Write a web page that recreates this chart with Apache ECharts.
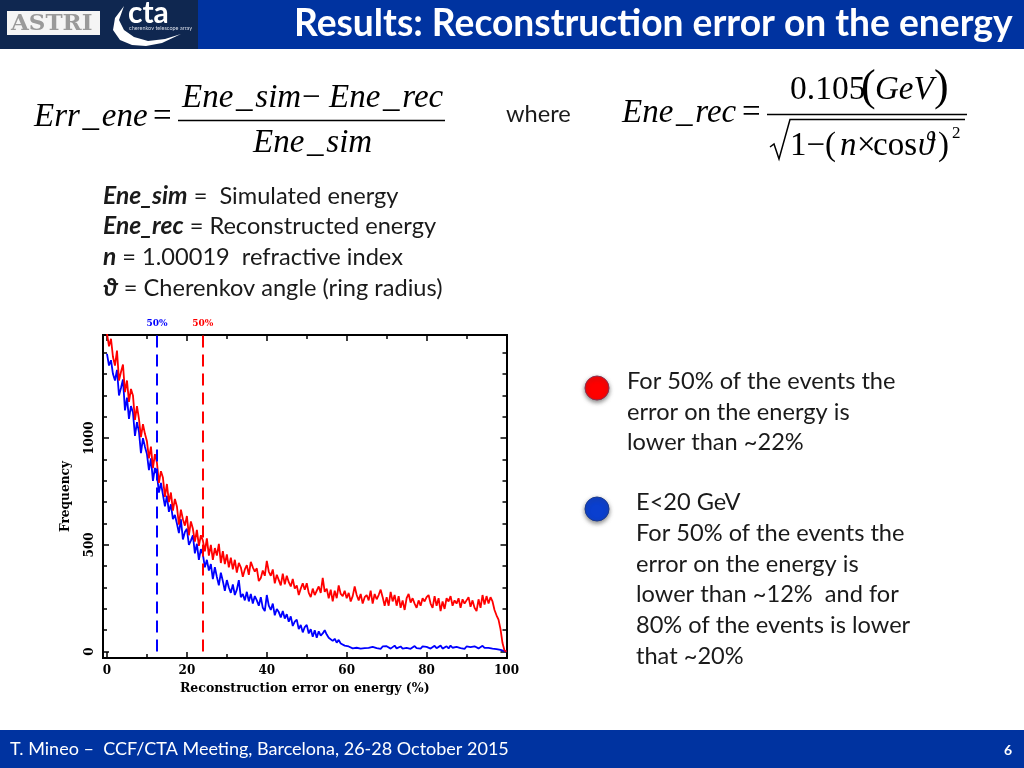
<!DOCTYPE html>
<html><head><meta charset="utf-8">
<style>html,body{margin:0;padding:0;background:#fff}#c{width:1024px;height:768px}</style>
<script src="https://cdn.jsdelivr.net/npm/echarts@6/dist/echarts.min.js"></script>
</head><body><div id="c"></div>
<script>
const binWidth = 0.5;
const redCounts = [
1490,1430,1465,1380,1340,1410,1270,1310,1345,1215,
1270,1170,1230,1200,1085,1150,1090,1005,1065,1020,
985,905,960,860,925,885,790,845,815,725,
785,700,745,660,715,680,595,665,620,590,
635,545,610,575,515,570,495,545,520,470,
530,450,500,430,485,450,505,415,470,410,
455,395,440,385,430,370,415,395,350,385,
405,360,420,395,375,390,330,345,380,355,
425,375,355,385,320,360,335,310,365,315,
355,325,305,340,295,310,265,295,320,290,
320,275,255,295,265,285,305,275,345,280,
295,250,290,235,285,250,310,270,260,285,
250,275,235,260,305,265,240,270,225,255,
265,240,285,225,270,245,265,290,255,215,
255,215,280,235,265,215,260,205,240,195,
250,270,230,250,225,205,240,215,250,235,
255,265,225,205,260,215,250,190,235,200,
250,235,260,215,240,225,250,205,245,225,
240,255,210,240,205,190,245,205,265,220,
260,225,255,235,195,170,150,105,40,5,
0];
const blueCounts = [
1395,1340,1365,1300,1270,1320,1200,1235,1275,1130,
1190,1090,1150,1120,1010,1075,1030,930,1000,960,
925,850,905,800,860,830,745,790,735,680,
730,655,690,620,640,600,555,620,525,560,
575,500,520,545,460,505,430,480,455,395,
430,380,410,340,395,350,310,370,330,285,
335,300,275,315,265,290,335,255,270,240,
280,235,270,225,260,240,215,255,205,190,
265,215,195,225,170,200,185,160,190,155,
175,140,165,120,140,150,105,125,90,115,
125,85,105,70,100,65,95,75,85,100,
80,65,72,50,60,42,55,38,45,28,
30,24,26,15,22,18,24,14,22,16,
24,17,14,22,26,16,20,13,24,17,
25,18,14,23,28,15,19,24,14,20,
17,25,13,22,26,16,20,14,24,18,
22,26,14,18,27,16,21,28,14,19,
25,15,28,18,14,22,26,16,20,13,
24,17,21,14,25,18,15,23,27,17,
24,17,22,14,19,12,16,8,6,2,
0];
const xMajorTicks = [0,20,40,60,80,100];
const xMinorTicks = [10,30,50,70,90];
const yLabelTicks = [0,500,1000];
const yMinorTicks = [100,200,300,400,600,700,800,900,1100,1200,1300,1400];
const redMedian = 24;
const blueMedian = 12.5;
const medianLabel = '50%';
const xTitle = 'Reconstruction error on energy (%)';
const yTitle = 'Frequency';

const pairs = a => a.map((v,i)=>[i*binWidth,v]);
const plotFont = '"DejaVu Serif"';
const sans = 'Lato';
const serif = '"Liberation Serif"';
const body = 23.6;
const xBase = {type:'value',min:-1,max:100,splitLine:{show:false},
  axisLine:{show:true,onZero:false,lineStyle:{color:'#000',width:2}}};
const yBase = {type:'value',min:-30,max:1483,splitLine:{show:false},
  axisLine:{show:true,onZero:false,lineStyle:{color:'#000',width:2}}};
const tick = (vals,len)=>({show:true,inside:true,length:len,lineStyle:{color:'#000',width:1.5},customValues:vals});
const noLabel = {show:false};

function T(text,x,y,size,o={}){
  return {type:'text',x,y,z:10,style:Object.assign({text,fontSize:size,fontFamily:sans,fill:'#1a1a1a',verticalAlign:'middle',align:'left'},o)};
}
function L(x1,y1,x2,y2,w=1.5,c='#000'){
  return {type:'line',z:10,shape:{x1,y1,x2,y2},style:{stroke:c,lineWidth:w}};
}
const it = {fontStyle:'italic',fontFamily:serif,fill:'#000'};
const rm = {fontFamily:serif,fill:'#000'};
const bi = {fontWeight:'bold',fontStyle:'italic',fontFamily:sans,fontSize:24.6,fill:'#1a1a1a'};
const richB = {rich:{b:bi}};

const graphic = [
  {type:'rect',z:5,shape:{x:0,y:0,width:1024,height:49},style:{fill:'#0033a0'}},
  {type:'rect',z:6,shape:{x:0,y:0,width:198,height:49},style:{fill:'#0f2750'}},
  {type:'rect',z:7,shape:{x:7,y:11,width:93,height:24},style:{fill:'#f5f5f5'}},
  T('ASTRI',11,24,23,{fontFamily:plotFont,fontWeight:'bold',fill:'#9a9a9a'}),
  T('cta',128,13,30,{fill:'#fff',fontWeight:'bold'}),
  T('cherenkov telescope array',129,28,5.5,{fill:'#d8dde8'}),
  {type:'polygon',z:10,shape:{points:[[124,6],[115,18],[113,30],[120,40],[132,45],[146,46],[162,43],[181,34],[165,39],[148,41],[134,37],[124,30],[119,20]]},style:{fill:'#fff'}},
  {type:'rect',z:5,shape:{x:0,y:730,width:1024,height:38},style:{fill:'#0033a0'}},
  T('Results: Reconstruction error on the energy',294,24,37.2,{fill:'#fff',fontWeight:'bold'}),
  T('T. Mineo \u2013  CCF/CTA Meeting, Barcelona, 26-28 October 2015',10,749,18,{fill:'#fff'}),
  T('6',1004,750,14,{fill:'#fff',fontWeight:'bold'}),

  T('Err\u200a_\u200aene',34,117,33,it),
  T('=',153,117,33,rm),
  T('Ene\u200a_\u200asim',182,98,33,it),
  T('\u2212',302,98,33,rm),
  T('Ene\u200a_\u200arec',329,98,33,it),
  L(178,120.5,445,120.5),
  T('Ene\u200a_\u200asim',253,143,33,it),
  T('where',506,114,body),
  T('Ene\u200a_\u200arec',622,113,33,it),
  T('=',742,113,33,rm),
  T('0.105',790,90,33.5,rm),
  T('(',861,88,44,rm),
  T('GeV',875,90,33,it),
  T(')',934,88,44,rm),
  L(767,114.5,967,114.5),
  {type:'polyline',z:10,shape:{points:[[770,147],[774,144],[779,159],[790,119.5],[965,119.5]]},style:{stroke:'#000',lineWidth:1.5,fill:null}},
  T('1\u2212(',790,146,33,rm),
  T('n',840,146,33,it),
  T('\u00d7',857,146,33,rm),
  T('cos',873,146,33,rm),
  T('\u03d1',918,146,33,it),
  T(')',938,146,33,rm),
  T('2',952,134,17,rm),

  T('{b|Ene_sim} =  Simulated energy',103,196,body,richB),
  T('{b|Ene_rec} = Reconstructed energy',103,226,body,richB),
  T('{b|n} = 1.00019  refractive index',103,257,body,richB),
  T('{b|\u03d1} = Cherenkov angle (ring radius)',103,288,body,richB),

  {type:'circle',z:9,shape:{cx:597,cy:388,r:12},style:{fill:'#ff0000',stroke:'#8a3050',lineWidth:1,shadowBlur:4,shadowOffsetY:2,shadowColor:'rgba(60,60,60,.6)'}},
  {type:'circle',z:9,shape:{cx:597,cy:509,r:12},style:{fill:'#0a3fcf',stroke:'#1a3a90',lineWidth:1,shadowBlur:4,shadowOffsetY:2,shadowColor:'rgba(60,60,60,.6)'}},
  T('For 50% of the events the',627,381,body),
  T('error on the energy is',627,412,body),
  T('lower than ~22%',627,442,body),
  T('E<20 GeV',636,502,body),
  T('For 50% of the events the',636,533,body),
  T('error on the energy is',636,564,body),
  T('lower than ~12%  and for',636,594,body),
  T('80% of the events is lower',636,625,body),
  T('that ~20%',636,656,body)
];

const chart = echarts.init(document.getElementById('c'),null,{renderer:'canvas'});
const med = (x,color)=>({
  silent:true,symbol:'none',animation:false,
  lineStyle:{color,type:[12,7],width:2},
  label:{show:true,position:'end',formatter:medianLabel,color,fontFamily:plotFont,fontWeight:'bold',fontSize:9,distance:7},
  data:[[{coord:[x,0]},{coord:[x,1483]}]]
});
chart.setOption({
  animation:false,
  backgroundColor:'#fff',
  grid:{left:103,top:335,width:403.5,height:323,containLabel:false},
  xAxis:[
    Object.assign({},xBase,{position:'bottom',name:xTitle,nameLocation:'middle',nameGap:24,
      nameTextStyle:{fontFamily:plotFont,fontWeight:'bold',fontSize:12.5,color:'#000'},
      axisTick:tick(xMajorTicks,6),
      axisLabel:{show:true,customValues:xMajorTicks,margin:7,fontFamily:plotFont,fontWeight:'bold',fontSize:12,color:'#000',showMinLabel:true,showMaxLabel:true}}),
    Object.assign({},xBase,{position:'bottom',axisTick:tick(xMinorTicks,4),axisLabel:noLabel}),
    Object.assign({},xBase,{position:'top',axisTick:tick(xMajorTicks,6),axisLabel:noLabel}),
    Object.assign({},xBase,{position:'top',axisTick:tick(xMinorTicks,4),axisLabel:noLabel})
  ],
  yAxis:[
    Object.assign({},yBase,{position:'left',name:yTitle,nameLocation:'middle',nameGap:31,
      nameTextStyle:{fontFamily:plotFont,fontWeight:'bold',fontSize:12.2,color:'#000'},
      axisTick:tick(yLabelTicks,6),
      axisLabel:{show:true,customValues:yLabelTicks,rotate:90,margin:7,formatter:v=>String(v),fontFamily:plotFont,fontWeight:'bold',fontSize:12,color:'#000'}}),
    Object.assign({},yBase,{position:'left',axisTick:tick(yMinorTicks,4),axisLabel:noLabel}),
    Object.assign({},yBase,{position:'right',axisTick:tick(yLabelTicks,6),axisLabel:noLabel}),
    Object.assign({},yBase,{position:'right',axisTick:tick(yMinorTicks,4),axisLabel:noLabel})
  ],
  series:[
    {type:'line',name:'E<20 GeV',data:pairs(blueCounts),showSymbol:false,symbol:'none',lineStyle:{color:'#0000ff',width:1.8},itemStyle:{color:'#0000ff'},markLine:med(blueMedian,'#0000ff'),z:2},
    {type:'line',name:'All',data:pairs(redCounts),showSymbol:false,symbol:'none',lineStyle:{color:'#ff0000',width:1.8},itemStyle:{color:'#ff0000'},markLine:med(redMedian,'#ff0000'),z:3}
  ],
  graphic
});
</script></body></html>
